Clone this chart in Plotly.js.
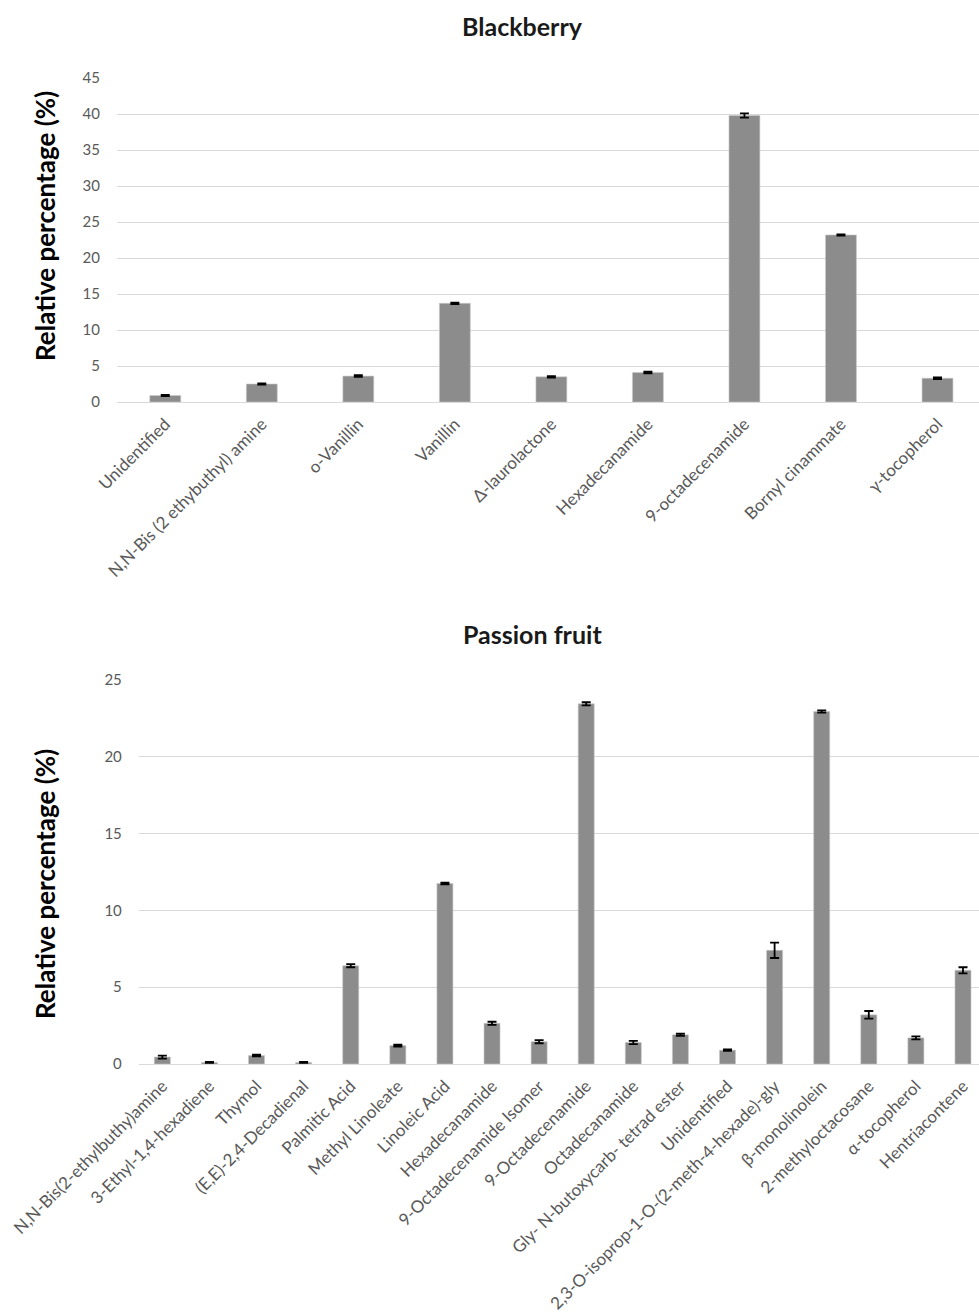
<!DOCTYPE html>
<html>
<head>
<meta charset="utf-8">
<script src="https://cdn.plot.ly/plotly-3.0.1.min.js"></script>
<style>html,body{margin:0;padding:0;background:#fff;}#chart{width:979px;height:1313px;}</style>
</head>
<body>
<div id="chart"></div>
<script>
// Blackberry
var catsB = ["Unidentified","N,N-Bis (2 ethybuthyl) amine","o-Vanillin","Vanillin","Δ-laurolactone","Hexadecanamide","9-octadecenamide","Bornyl cinammate","γ-tocopherol"];
var valsB = [0.9, 2.5, 3.6, 13.7, 3.5, 4.1, 39.8, 23.2, 3.3];
var errB  = [0.08, 0.1, 0.12, 0.1, 0.1, 0.12, 0.3, 0.08, 0.12];
var ticksB = [0, 5, 10, 15, 20, 25, 30, 35, 40, 45];

// Passion fruit
var catsP = ["N,N-Bis(2-ethylbuthy)amine","3-Ethyl-1,4-hexadiene","Thymol","(E,E)-2,4-Decadienal","Palmitic Acid","Methyl Linoleate","Linoleic Acid","Hexadecanamide","9-Octadecenamide Isomer","9-Octadecenamide","Octadecanamide","Gly- N-butoxycarb- tetrad ester","Unidentified","2,3-O-isoprop-1-O-(2-meth-4-hexade)-gly","β-monolinolein","2-methyloctacosane","α-tocopherol","Hentriacontene"];
var valsP = [0.45, 0.1, 0.55, 0.1, 6.4, 1.2, 11.75, 2.65, 1.45, 23.45, 1.4, 1.9, 0.9, 7.4, 22.95, 3.2, 1.7, 6.1];
var errP  = [0.1, 0.03, 0.06, 0.03, 0.1, 0.06, 0.05, 0.1, 0.1, 0.1, 0.1, 0.07, 0.05, 0.5, 0.07, 0.25, 0.1, 0.2];
var ticksP = [0, 5, 10, 15, 20, 25];

var titleTop = "Blackberry";
var titleBottom = "Passion fruit";
var yTitle = "Relative percentage (%)";

var FONT = "Lato, 'Open Sans', sans-serif";
var H = 1313, W = 979;
function py(p){ return 1 - p / H; }
function px(p){ return p / W; }

var barColor = "#8c8c8c";
var errStyle = {type:"data", visible:true, color:"#000000", thickness:1.8, width:4.5};

var traces = [
  {type:"bar", x:catsB, y:valsB, xaxis:"x", yaxis:"y", width:0.32,
   marker:{color:barColor, line:{color:"#c8c8c8", width:0.6}},
   error_y:Object.assign({array:errB}, errStyle), hoverinfo:"x+y", showlegend:false},
  {type:"bar", x:catsP, y:valsP, xaxis:"x2", yaxis:"y2", width:0.34,
   marker:{color:barColor, line:{color:"#c8c8c8", width:0.6}},
   error_y:Object.assign({array:errP}, errStyle), hoverinfo:"x+y", showlegend:false}
];

var xTickFont = {family:FONT, size:17, color:"#595959"};
var yTickFont = {family:FONT, size:15, color:"#595959"};

var layout = {
  width:W, height:H,
  margin:{l:0, r:0, t:0, b:0},
  paper_bgcolor:"#ffffff", plot_bgcolor:"#ffffff",
  showlegend:false,
  xaxis:{domain:[px(117), 1], anchor:"y", type:"category", range:[-0.5, 8.43],
         tickangle:-45, tickfont:xTickFont, showgrid:false, zeroline:false, showline:false,
         ticks:"", ticklabelstandoff:8, automargin:false, fixedrange:true},
  yaxis:{domain:[py(402), py(78)], anchor:"x", range:[0, 45], tickvals:ticksB,
         tickfont:yTickFont, showgrid:true, gridcolor:"#d9d9d9", gridwidth:1,
         zeroline:true, zerolinecolor:"#d9d9d9", zerolinewidth:1, showline:false,
         ticks:"", ticklabelstandoff:16, automargin:false, fixedrange:true},
  xaxis2:{domain:[px(138.8), 1], anchor:"y2", type:"category", range:[-0.5, 17.34],
         tickangle:-45, tickfont:xTickFont, showgrid:false, zeroline:false, showline:false,
         ticks:"", ticklabelstandoff:8, automargin:false, fixedrange:true},
  yaxis2:{domain:[py(1064), py(680)], anchor:"x2", range:[0, 25], tickvals:ticksP,
         tickfont:yTickFont, showgrid:true, gridcolor:"#d9d9d9", gridwidth:1,
         zeroline:true, zerolinecolor:"#d9d9d9", zerolinewidth:1, showline:false,
         ticks:"", ticklabelstandoff:16, automargin:false, fixedrange:true},
  annotations:[
    {text:"<b>"+titleTop+"</b>", xref:"paper", yref:"paper", x:px(522), y:py(26),
     xanchor:"center", yanchor:"middle", showarrow:false,
     font:{family:FONT, size:25, color:"#1a1a1a"}},
    {text:"<b>"+titleBottom+"</b>", xref:"paper", yref:"paper", x:px(532), y:py(634),
     xanchor:"center", yanchor:"middle", showarrow:false,
     font:{family:FONT, size:25, color:"#1a1a1a"}},
    {text:"<b>"+yTitle+"</b>", xref:"paper", yref:"paper", x:px(45), y:py(226),
     xanchor:"center", yanchor:"middle", showarrow:false, textangle:-90,
     font:{family:FONT, size:26, color:"#000000"}},
    {text:"<b>"+yTitle+"</b>", xref:"paper", yref:"paper", x:px(45), y:py(884),
     xanchor:"center", yanchor:"middle", showarrow:false, textangle:-90,
     font:{family:FONT, size:26, color:"#000000"}}
  ]
};

Plotly.newPlot("chart", traces, layout, {staticPlot:true, displayModeBar:false});
</script>
</body>
</html>
